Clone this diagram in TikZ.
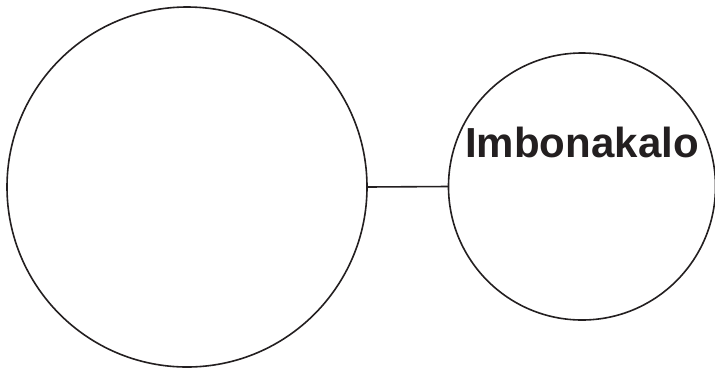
\documentclass[tikz,border=0pt]{standalone}
\usepackage{fontspec}
\setmainfont{Liberation Sans}
\usepackage{tikz}
\usetikzlibrary{positioning}
\definecolor{imInk}{HTML}{231F20}
\tikzset{
  im diagram/.style={line cap=round, line join=round},
  im circle/.style={circle, draw=imInk, fill=white, line width=1.6pt,
    inner sep=0pt},
  im link/.style={draw=imInk, line width=1.6pt},
  im title/.style={font=\fontsize{42}{46}\selectfont\bfseries, text=imInk,
    inner sep=0pt}
}
\begin{document}
\begin{tikzpicture}[im diagram,x=1pt,y=-1pt]
\useasboundingbox (0,0) rectangle (715,368);
\node[im circle,minimum size=360pt] (main) at (187,187) {};
\node[im circle,minimum size=267pt] (side) at (582,186.5) {};
\node[im title,anchor=base] (sidetext) at (582,157) {Imbonakalo};
\draw[im link] (main.east) -- (side.west);
\end{tikzpicture}
\end{document}
